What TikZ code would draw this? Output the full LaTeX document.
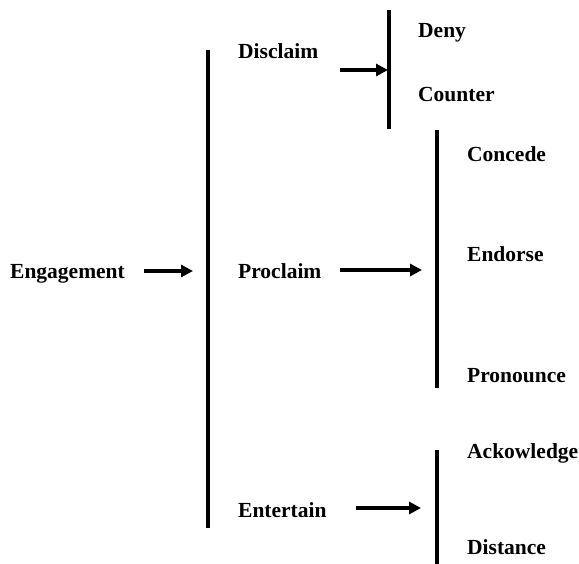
\documentclass[tikz,border=0pt]{standalone}
\usepackage{fontspec}
\setmainfont{Liberation Serif}
\usetikzlibrary{arrows.meta}
\begin{document}
\begin{tikzpicture}[x=1pt,y=-1pt,
  lbl/.style={font=\bfseries\fontsize{21.5}{25}\selectfont, anchor=base west, inner sep=0pt},
  bar/.style={line width=3.2pt},
  arr/.style={line width=3.4pt, -{Triangle[length=12pt,width=12pt]}}]
\useasboundingbox (0,0) rectangle (579,564);
% texts
\node[lbl] (eng) at (10,279) {Engagement};
\node[lbl] (dis) at (238,59) {Disclaim};
\node[lbl] (pro) at (238,279) {Proclaim};
\node[lbl] (ent) at (238,517) {Entertain};
\node[lbl] (deny) at (418,38) {Deny};
\node[lbl] (cou) at (418,102) {Counter};
\node[lbl] (con) at (467,162) {Concede};
\node[lbl] (endo) at (467,262) {Endorse};
\node[lbl] (pron) at (467,382) {Pronounce};
\node[lbl] (ack) at (467,458) {Ackowledge};
\node[lbl] (dist) at (467,554) {Distance};
% bars
\coordinate (b0t) at (208,50);  \coordinate (b0b) at (208,528);
\coordinate (b1t) at (389,10);  \coordinate (b1b) at (389,129);
\coordinate (b2t) at (437,130); \coordinate (b2b) at (437,388);
\coordinate (b3t) at (437,450); \coordinate (b3b) at (437,564);
\draw[bar] (b0t) -- (b0b);
\draw[bar] (b1t) -- (b1b);
\draw[bar] (b2t) -- (b2b);
\draw[bar] (b3t) -- (b3b);
% arrows
\coordinate (a0s) at (144,271); \coordinate (a0e) at (193,271);
\coordinate (a1s) at (340,70);  \coordinate (a1e) at (388,70);
\coordinate (a2s) at (340,270); \coordinate (a2e) at (422,270);
\coordinate (a3s) at (356,508); \coordinate (a3e) at (421,508);
\draw[arr] (a0s) -- (a0e);
\draw[arr] (a1s) -- (a1e);
\draw[arr] (a2s) -- (a2e);
\draw[arr] (a3s) -- (a3e);
\end{tikzpicture}
\end{document}
